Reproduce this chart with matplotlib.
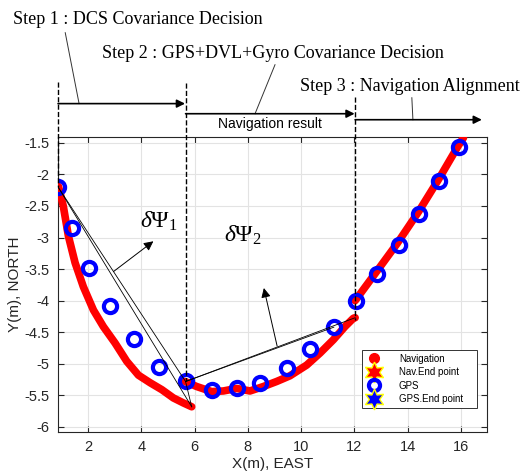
import matplotlib
matplotlib.use("Agg")
import matplotlib.pyplot as plt
from matplotlib.lines import Line2D

plt.rcParams['font.family'] = ['Liberation Sans', 'DejaVu Sans']
plt.rcParams['mathtext.fontset'] = 'custom'
plt.rcParams['mathtext.rm'] = 'Liberation Serif'
plt.rcParams['mathtext.it'] = 'Liberation Serif:italic'

# navigation track, three segments (x east, y north)
nav1_x = [0.885, 1.07, 1.26, 1.51, 1.82, 2.20, 2.57, 3.01, 3.45, 3.89, 4.33, 4.77, 5.20, 5.58, 5.89]
nav1_y = [-2.19, -2.51, -2.98, -3.40, -3.78, -4.15, -4.41, -4.67, -4.96, -5.18, -5.30, -5.41, -5.54, -5.62, -5.68]
nav2_x = [5.64, 6.08, 6.64, 7.08, 7.58, 8.08, 8.58, 9.08, 9.58, 10.21, 10.71, 11.21, 11.65, 11.96, 12.03]
nav2_y = [-5.28, -5.36, -5.44, -5.43, -5.39, -5.43, -5.36, -5.28, -5.19, -5.02, -4.83, -4.62, -4.41, -4.28, -4.27]
nav3_x = [12.03, 12.8, 13.6, 14.4, 15.15, 15.9, 16.1]
nav3_y = [-4.0, -3.56, -3.1, -2.6, -2.09, -1.55, -1.42]

# GPS fixes
gps_x = [0.87, 1.40, 2.05, 2.83, 3.73, 4.68, 5.66, 6.65, 7.59, 8.46, 9.47,
         10.33, 11.23, 12.06, 12.85, 13.67, 14.43, 15.18, 15.93]
gps_y = [-2.2, -2.85, -3.49, -4.08, -4.6, -5.05, -5.28, -5.42, -5.39, -5.3,
         -5.07, -4.77, -4.42, -4.0, -3.58, -3.12, -2.62, -2.1, -1.57]

# step boundaries
step_x = [0.87, 5.66, 12.03]
dash_top = [-0.53, -0.55, -0.77]
dash_bottom = [-2.2, -5.28, -4.3]

fig = plt.figure(figsize=(5.23, 4.76), dpi=100)
ax = fig.add_axes([0.111, 0.0924, 0.82, 0.6196])

ax.grid(True, color='#e3e3e3', lw=0.8)
ax.set_axisbelow(True)

for nx, ny in [(nav1_x, nav1_y), (nav2_x, nav2_y), (nav3_x, nav3_y)]:
    ax.plot(nx, ny, '-', color='red', lw=5.5, solid_capstyle='round',
            solid_joinstyle='round', zorder=3)

ax.plot(gps_x, gps_y, 'o', ms=9.5, mfc='none', mec='blue', mew=3, zorder=4)

# angle lines
k = 'black'
ax.plot([gps_x[0], nav1_x[-1]], [gps_y[0], nav1_y[-1]], color=k, lw=0.6, zorder=5)
ax.plot([gps_x[0], gps_x[6]], [gps_y[0], gps_y[6]], color=k, lw=0.6, zorder=5)
ax.plot([gps_x[6], nav1_x[-1]], [gps_y[6], nav1_y[-1]], color=k, lw=0.6, zorder=5)
ax.plot([gps_x[6], nav2_x[-1]], [gps_y[6], nav2_y[-1]], color=k, lw=0.6, zorder=5)
ax.plot([gps_x[6], gps_x[12]], [gps_y[6], gps_y[12]], color=k, lw=0.6, zorder=5)

# dashed step boundaries
for sx, t, b in zip(step_x, dash_top, dash_bottom):
    ax.plot([sx, sx], [t, b], '--', color='black', lw=1, clip_on=False, zorder=6)

# step arrows
arrow_y = [-0.88, -1.04, -1.135]
arrow_end = [5.64, 12.01, 16.79]
for sx, ay, ex in zip(step_x, arrow_y, arrow_end):
    ax.annotate('', xy=(ex, ay), xytext=(sx, ay), annotation_clip=False,
                arrowprops=dict(arrowstyle='-|>', color='black', lw=1.2,
                                mutation_scale=12, shrinkA=0, shrinkB=0))

# step texts with leader lines
ax.text(-0.815, 0.45, 'Step 1 : DCS Covariance Decision', family='Liberation Serif',
        fontsize=13, va='center', ha='left')
ax.text(2.53, -0.09, 'Step 2 : GPS+DVL+Gyro Covariance Decision', family='Liberation Serif',
        fontsize=13, va='center', ha='left')
ax.text(9.96, -0.61, 'Step 3 : Navigation Alignment', family='Liberation Serif',
        fontsize=13, va='center', ha='left')
ax.plot([1.14, 1.66], [0.243, -0.88], color='#333333', lw=0.7, clip_on=False)
ax.plot([9.02, 8.27], [-0.264, -1.04], color='#333333', lw=0.7, clip_on=False)
ax.plot([14.16, 14.2], [-0.787, -1.135], color='#333333', lw=0.7, clip_on=False)
ax.text(8.83, -1.2, 'Navigation result', fontsize=10, ha='center', va='center')

# angle labels
ax.annotate('', xy=(4.45, -3.06), xytext=(2.95, -3.54),
            arrowprops=dict(arrowstyle='-|>', color='black', lw=0.7,
                            mutation_scale=14, shrinkA=0, shrinkB=0))
ax.text(4.67, -2.75, r'$\mathit{δΨ}_1$', fontsize=17, ha='center', va='center')
ax.annotate('', xy=(8.6, -3.8), xytext=(9.1, -4.72),
            arrowprops=dict(arrowstyle='-|>', color='black', lw=0.7,
                            mutation_scale=14, shrinkA=0, shrinkB=0))
ax.text(7.8, -2.96, r'$\mathit{δΨ}_2$', fontsize=17, ha='center', va='center')

ax.set_xlim(0.87, 16.98)
ax.set_ylim(-6.08, -1.41)
ax.set_xticks([2, 4, 6, 8, 10, 12, 14, 16])
ax.set_yticks([-6, -5.5, -5, -4.5, -4, -3.5, -3, -2.5, -2, -1.5])
ax.set_yticklabels(['-6', '-5.5', '-5', '-4.5', '-4', '-3.5', '-3', '-2.5', '-2', '-1.5'])
ax.tick_params(direction='in', top=True, right=True, labelsize=10.5,
               colors='#262626', length=4, pad=6)
for s in ax.spines.values():
    s.set_color('#262626')
    s.set_linewidth(0.8)
ax.set_xlabel('X(m), EAST', fontsize=11, color='#262626', labelpad=2)
ax.set_ylabel('Y(m), NORTH', fontsize=11, color='#262626', labelpad=2)

star6 = (6, 1, 0)
handles = [
    Line2D([], [], ls='none', marker='o', ms=7, color='red'),
    Line2D([], [], ls='none', marker=star6, ms=15, mfc='red', mec='yellow', mew=1),
    Line2D([], [], ls='none', marker='o', ms=8, mfc='none', mec='blue', mew=3),
    Line2D([], [], ls='none', marker=star6, ms=15, mfc='blue', mec='yellow', mew=1),
]
labels = ['Navigation', 'Nav.End point', 'GPS', 'GPS.End point']
leg = ax.legend(handles, labels, loc='lower left', bbox_to_anchor=(0.692, 0.143, 0.22, 0.122),
                bbox_transform=fig.transFigure, mode='expand', fontsize=7, fancybox=False,
                framealpha=1, edgecolor='#333333', borderpad=0.4, labelspacing=0.35,
                handlelength=1.6, handletextpad=1.8, borderaxespad=0)
leg.get_frame().set_linewidth(0.7)

fig.savefig('out.png', dpi=100)
